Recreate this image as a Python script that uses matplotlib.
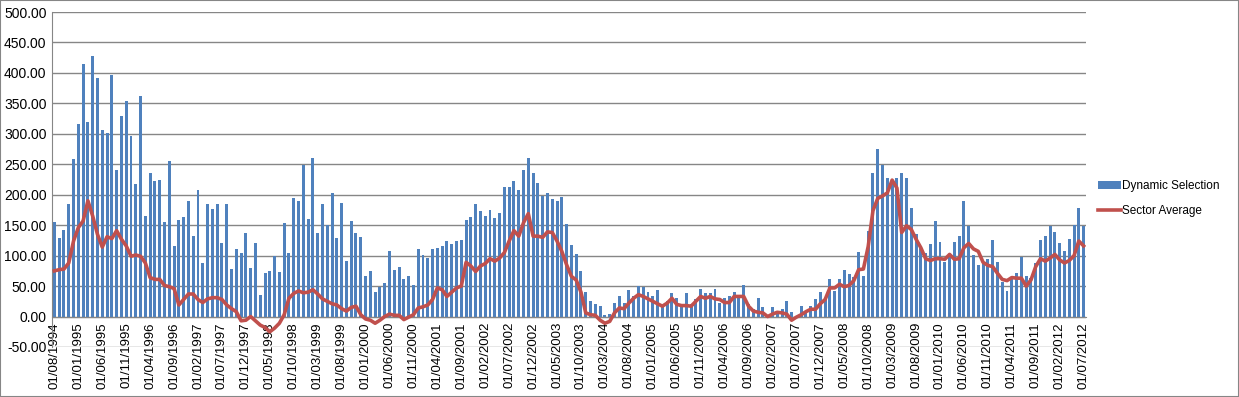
import numpy as np
import pandas as pd
import matplotlib
matplotlib.use("Agg")
import matplotlib.pyplot as plt
from matplotlib.patches import Rectangle

# Monthly dates, 01/08/1994 .. 01/07/2012
months = pd.date_range("1994-08-01", "2012-07-01", freq="MS")

# Dynamic Selection (bars)
dynamic_selection = [
    155, 129, 142, 184, 258, 316, 415, 319, 428, 392,
    306, 301, 397, 241, 329, 354, 296, 217, 362, 165,
    235, 222, 225, 155, 255, 116, 159, 164, 189, 132,
    208, 88, 184, 177, 184, 121, 184, 78, 111, 104,
    137, 79, 121, 36, 71, 74, 99, 73, 154, 104,
    195, 190, 248, 160, 260, 137, 184, 150, 203, 129,
    187, 91, 157, 137, 131, 66, 74, 41, 49, 55,
    107, 76, 81, 61, 66, 51, 111, 101, 96, 111,
    112, 116, 124, 119, 124, 126, 159, 164, 184, 174,
    165, 175, 162, 170, 213, 212, 223, 208, 240, 260,
    235, 220, 198, 203, 193, 189, 197, 152, 117, 103,
    74, 41, 26, 21, 17, 2, 5, 23, 33, 23,
    43, 33, 50, 49, 41, 33, 43, 18, 25, 38,
    30, 18, 38, 20, 29, 46, 38, 38, 45, 23,
    30, 33, 41, 32, 51, 20, 12, 30, 15, 1,
    15, 8, 13, 25, 7, 1, 17, 8, 17, 29,
    40, 31, 61, 42, 61, 76, 70, 65, 106, 66,
    140, 235, 275, 248, 227, 220, 227, 235, 228, 179,
    136, 112, 104, 119, 157, 122, 89, 100, 123, 132,
    190, 148, 101, 84, 90, 94, 125, 89, 56, 42,
    65, 72, 98, 67, 64, 88, 125, 132, 148, 138,
    120, 108, 127, 151, 179, 148,
]

# Sector Average (line)
sector_average = [
    75, 77, 78, 88, 124, 146, 157, 190, 165, 135,
    114, 131, 128, 141, 127, 116, 99, 101, 99, 88,
    64, 61, 61, 51, 49, 46, 19, 28, 37, 37,
    28, 23, 29, 31, 31, 28, 19, 13, 8, -7,
    -6, 0, -7, -14, -18, -25, -19, -11, 3, 30,
    38, 42, 39, 40, 44, 37, 29, 25, 21, 19,
    13, 9, 15, 17, 3, -4, -6, -11, -6, 0,
    4, 2, 2, -5, -1, 3, 14, 16, 19, 28,
    47, 44, 33, 40, 47, 50, 89, 83, 74, 83,
    87, 95, 91, 96, 105, 124, 141, 132, 154, 169,
    132, 132, 130, 139, 138, 124, 107, 85, 66, 60,
    40, 6, 3, 2, -6, -11, -8, 6, 14, 13,
    22, 30, 36, 33, 29, 25, 21, 17, 22, 30,
    20, 18, 18, 17, 25, 33, 30, 33, 29, 28,
    23, 23, 33, 33, 33, 17, 9, 7, 6, 0,
    4, 7, 6, 4, -6, -1, 3, 8, 12, 12,
    21, 28, 47, 47, 53, 49, 51, 59, 77, 78,
    115, 174, 194, 198, 203, 224, 211, 138, 149, 143,
    127, 113, 95, 92, 95, 95, 94, 102, 94, 95,
    113, 120, 111, 107, 89, 84, 82, 71, 61, 59,
    64, 63, 63, 50, 60, 82, 95, 91, 96, 102,
    93, 88, 92, 100, 124, 116,
]

plt.rcParams["font.family"] = ["Liberation Sans", "DejaVu Sans"]

x = np.arange(len(months))
tick_idx = x[::5]
tick_labels = [months[i].strftime("%d/%m/%Y") for i in tick_idx]

fig = plt.figure(figsize=(12.39, 3.97), dpi=100)
ax = fig.add_axes([52 / 1239, 1 - 347 / 397, (1086 - 52) / 1239, (347 - 12) / 397])

bars = ax.bar(x, dynamic_selection, width=0.62, color="#4F81BD", label="Dynamic Selection", zorder=2)
line, = ax.plot(x, sector_average, color="#C0504D", lw=2.6, label="Sector Average", zorder=3)

# category axis sits on zero (do this before tick setup, it resets ticks)
ax.spines["bottom"].set_position(("data", 0))
ax.spines["bottom"].set_color("#868686")
ax.spines["left"].set_color("#868686")
ax.spines["top"].set_visible(False)
ax.spines["right"].set_visible(False)

ax.set_xlim(-0.5, len(x) - 0.5)
ax.set_ylim(-50, 500)
ax.set_yticks(np.arange(-50, 501, 50))
ax.yaxis.set_major_formatter(matplotlib.ticker.FormatStrFormatter("%.2f"))
ax.grid(axis="y", color="#868686", lw=1, zorder=0)
ax.set_axisbelow(True)

ax.set_xticks(tick_idx)
ax.set_xticklabels(tick_labels)
ax.tick_params(axis="x", length=0, pad=4, labelrotation=90, labelsize=9.5)
ax.tick_params(axis="y", length=0, labelsize=10, pad=4)

fig.legend(handles=[bars, line], labels=["Dynamic Selection", "Sector Average"],
           loc="center left", bbox_to_anchor=(1087 / 1239, 0.50), frameon=False,
           fontsize=8.5, handlelength=2.0, handletextpad=0.1, labelspacing=1.1)

# outer chart border
fig.patches.append(Rectangle((0, 0), 1, 1, transform=fig.transFigure, fill=False,
                             edgecolor="#868686", lw=1.5))

fig.savefig("out.png", dpi=100)
